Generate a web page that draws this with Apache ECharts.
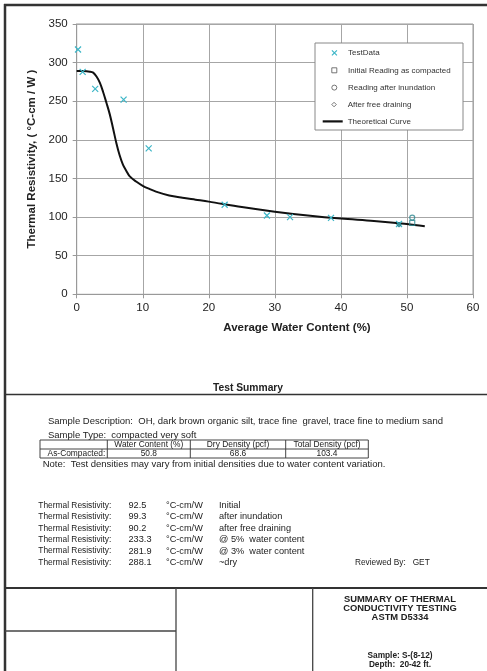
<!DOCTYPE html>
<html>
<head>
<meta charset="utf-8">
<script src="https://cdn.jsdelivr.net/npm/echarts@6/dist/echarts.min.js"></script>
<style>
  html, body { margin: 0; padding: 0; background: #fff; }
  #chart { width: 487px; height: 671px; }
</style>
</head>
<body>
<div id="chart"></div>
<script>
// Measured test points: water content (%) vs thermal resistivity (°C-cm/W)
const testWater = [0.2, 0.9, 2.8, 7.1, 10.9, 22.4, 28.8, 32.3, 38.5, 48.8];
const testRho   = [317, 288, 266, 252, 189, 116, 102, 100, 99, 91];

// Single readings on the compacted specimen
const initialReading    = [50.8, 92.5];
const inundationReading = [50.8, 99.3];
const drainingReading   = [48.8, 90.2];

// Fitted theoretical curve
const curveWater = [0, 1, 2, 2.5, 3, 3.5, 4, 4.5, 5, 5.5, 6, 6.5, 7, 7.5, 8, 9, 10, 11, 12, 14, 16, 18, 20, 25, 30, 35, 40, 45, 50, 52.7];
const curveRho   = [289, 289, 288.3, 287, 282, 274, 262, 248, 233.3, 215, 196, 180, 168, 160, 153, 146, 140.5, 136.5, 133, 128, 125, 122.5, 120, 113, 107, 102, 98, 95, 91, 88];

// Axis ticks
const xTicks = { min: 0, max: 60, interval: 10 };
const yTicks = { min: 0, max: 350, interval: 50 };

// Summary block
const sampleDescription = 'Sample Description:  OH, dark brown organic silt, trace fine  gravel, trace fine to medium sand';
const sampleType = 'Sample Type:  compacted very soft';
const tableHeaders = ['', 'Water Content (%)', 'Dry Density (pcf)', 'Total Density (pcf)'];
const tableRow = ['As-Compacted:', '50.8', '68.6', '103.4'];
const noteText = 'Note:  Test densities may vary from initial densities due to water content variation.';
const resistivityValues = ['92.5', '99.3', '90.2', '233.3', '281.9', '288.1'];
const resistivityNotes = ['Initial', 'after inundation', 'after free draining', '@ 5%  water content', '@ 3%  water content', '~dry'];
const titleLines = ['SUMMARY OF THERMAL', 'CONDUCTIVITY TESTING', 'ASTM D5334'];
const sampleLines = ['Sample: S-(8-12)', 'Depth:  20-42 ft.'];

const FONT = '"Liberation Sans", Arial, Helvetica, sans-serif';
const CYAN = '#3db6c7';
const TEAL = '#2d8790';

// marker outlines (stroked, centred in their box)
const crossPath   = 'path://M0,0L10,10M10,0L0,10';
const squarePath  = 'path://M0,0L10,0L10,10L0,10Z';
const circlePath  = 'path://M0,5A5,5,0,1,1,10,5A5,5,0,1,1,0,5Z';
const diamondPath = 'path://M5,0L10,5L5,10L0,5Z';

function zip(a, b) { return a.map((v, i) => [v, b[i]]); }

function txt(x, y, text, opt) {
  opt = opt || {};
  return {
    type: 'text', x: x, y: y, z: 10, silent: true,
    style: {
      text: text,
      fill: opt.color || '#222',
      font: (opt.bold ? 'bold ' : '') + (opt.size || 9.2) + 'px ' + FONT,
      textAlign: opt.align || 'left',
      textVerticalAlign: 'middle'
    }
  };
}
function hline(x1, x2, y, w, c) {
  return { type: 'line', z: 10, silent: true, shape: { x1: x1, y1: y, x2: x2, y2: y }, style: { stroke: c || '#333', lineWidth: w || 1 } };
}
function vline(x, y1, y2, w, c) {
  return { type: 'line', z: 10, silent: true, shape: { x1: x, y1: y1, x2: x, y2: y2 }, style: { stroke: c || '#333', lineWidth: w || 1 } };
}

const graphics = [];
// page frame
graphics.push(hline(4, 487, 5, 2.5, '#333'));
graphics.push(vline(5, 4, 671, 2.5, '#333'));
// legend box
graphics.push({ type: 'rect', z: 3, silent: true, shape: { x: 315, y: 43, width: 148, height: 87 }, style: { fill: '#fff', stroke: '#888', lineWidth: 1 } });
// x axis name
graphics.push(txt(297, 328, 'Average Water Content (%)', { bold: true, size: 11.5, align: 'center' }));
// summary heading and separator
graphics.push(txt(248, 388, 'Test Summary', { bold: true, size: 10.3, align: 'center' }));
graphics.push(hline(5, 487, 394.5, 1.5, '#333'));
graphics.push(txt(48, 421.7, sampleDescription, { size: 9.5 }));
graphics.push(txt(48, 435.8, sampleType, { size: 9.5 }));

// as-compacted table
const colX = [40, 107.3, 190.3, 285.7, 368.3];
const rowY = [440, 449, 458];
rowY.forEach(y => graphics.push(hline(colX[0], colX[4], y, 1, '#444')));
colX.forEach(x => graphics.push(vline(x, rowY[0], rowY[2], 1, '#444')));
for (let c = 1; c < 4; c++) {
  const cx = (colX[c] + colX[c + 1]) / 2;
  graphics.push(txt(cx, 444.7, tableHeaders[c], { size: 8.4, align: 'center' }));
  graphics.push(txt(cx, 453.7, tableRow[c], { size: 8.4, align: 'center' }));
}
graphics.push(txt(colX[1] - 2, 453.7, tableRow[0], { size: 8.4, align: 'right' }));
graphics.push(txt(42.7, 464.5, noteText, { size: 9.5 }));

// resistivity list
resistivityValues.forEach((v, i) => {
  const y = 505.5 + i * 11.4;
  graphics.push(txt(38.3, y, 'Thermal Resistivity:', { size: 8.4 }));
  graphics.push(txt(128.5, y, v));
  graphics.push(txt(166, y, '°C-cm/W'));
  graphics.push(txt(219, y, resistivityNotes[i]));
});
graphics.push(txt(355, 562.5, 'Reviewed By:   GET', { size: 8.3 }));

// title block
graphics.push(hline(4, 487, 588, 2, '#333'));
graphics.push(vline(176, 588, 671, 1.3, '#444'));
graphics.push(vline(312.7, 588, 671, 1.3, '#444'));
graphics.push(hline(5, 176, 631, 1.3, '#444'));
titleLines.forEach((t, i) => graphics.push(txt(400, 599.3 + i * 9.3, t, { bold: true, size: 9.4, align: 'center' })));
sampleLines.forEach((t, i) => graphics.push(txt(400, 655.7 + i * 9, t, { bold: true, size: 8.3, align: 'center' })));

// legend entries
const MARK_LEFT = 331.3;
const iconW = 17.4;
const legendCommon = {
  orient: 'vertical', z: 4, padding: 0, itemGap: 0, symbolKeepAspect: true,
  textStyle: { fontFamily: FONT, fontSize: 8, color: '#333' },
  selectedMode: false
};
function markerLegend(name, icon, cy, size, style) {
  return Object.assign({}, legendCommon, {
    left: MARK_LEFT, top: cy - size / 2, itemWidth: iconW, itemHeight: size,
    data: [{ name: name, icon: icon, itemStyle: style }]
  });
}
const grayOutline = { color: '#fff', borderColor: '#555', borderWidth: 1 };

const option = {
  animation: false,
  backgroundColor: '#fff',
  textStyle: { fontFamily: FONT },
  grid: { left: 76.7, right: 14, top: 24, bottom: 376.7, containLabel: false, show: true, borderColor: '#999', borderWidth: 1 },
  xAxis: {
    type: 'value', min: xTicks.min, max: xTicks.max, interval: xTicks.interval,
    axisLine: { show: true, lineStyle: { color: '#999', width: 1 } },
    axisTick: { show: true, length: 4, lineStyle: { color: '#999' } },
    splitLine: { show: true, lineStyle: { color: '#a6a6a6', width: 1 } },
    axisLabel: { margin: 8, fontSize: 11.5, color: '#222', fontFamily: FONT }
  },
  yAxis: {
    type: 'value', min: yTicks.min, max: yTicks.max, interval: yTicks.interval,
    name: 'Thermal Resistivity, ( °C-cm / W )', nameLocation: 'middle', nameGap: 36,
    nameTextStyle: { fontSize: 11.5, fontWeight: 'bold', color: '#222', fontFamily: FONT },
    axisLine: { show: true, lineStyle: { color: '#999', width: 1 } },
    axisTick: { show: true, length: 4, lineStyle: { color: '#999' } },
    splitLine: { show: true, lineStyle: { color: '#a6a6a6', width: 1 } },
    axisLabel: { margin: 9, fontSize: 11.5, color: '#222', fontFamily: FONT }
  },
  legend: [
    markerLegend('TestData', crossPath, 51.4, 5, { color: 'transparent', borderColor: CYAN, borderWidth: 1.2 }),
    markerLegend('Initial Reading as compacted', squarePath, 68.8, 5, grayOutline),
    markerLegend('Reading after inundation', circlePath, 86.1, 5, grayOutline),
    markerLegend('After free draining', diamondPath, 102.8, 4.5, grayOutline),
    Object.assign({}, legendCommon, { left: 322.7, top: 117.4, itemWidth: 20, itemHeight: 2.2, symbolKeepAspect: false,
      data: [{ name: 'Theoretical Curve', icon: 'rect', itemStyle: { color: '#111' } }] })
  ],
  series: [
    {
      name: 'Theoretical Curve', type: 'line', data: zip(curveWater, curveRho),
      smooth: 0.35, showSymbol: false, symbol: 'none', z: 3,
      lineStyle: { color: '#111', width: 2 }, itemStyle: { color: '#111' }
    },
    {
      name: 'TestData', type: 'scatter', data: zip(testWater, testRho),
      symbol: crossPath, symbolSize: 6, z: 4,
      itemStyle: { color: 'transparent', borderColor: CYAN, borderWidth: 1.2, opacity: 1 }
    },
    {
      name: 'Initial Reading as compacted', type: 'scatter', data: [initialReading],
      symbol: squarePath, symbolSize: 5, z: 5,
      itemStyle: { color: 'transparent', borderColor: TEAL, borderWidth: 1.2 }
    },
    {
      name: 'Reading after inundation', type: 'scatter', data: [inundationReading],
      symbol: circlePath, symbolSize: 5, z: 5,
      itemStyle: { color: 'transparent', borderColor: TEAL, borderWidth: 1.2 }
    },
    {
      name: 'After free draining', type: 'scatter', data: [drainingReading],
      symbol: diamondPath, symbolSize: 5, z: 5,
      itemStyle: { color: TEAL, borderColor: TEAL, borderWidth: 1 }
    }
  ],
  graphic: graphics
};

const chart = echarts.init(document.getElementById('chart'), null, { renderer: 'canvas' });
chart.setOption(option);
</script>
</body>
</html>
